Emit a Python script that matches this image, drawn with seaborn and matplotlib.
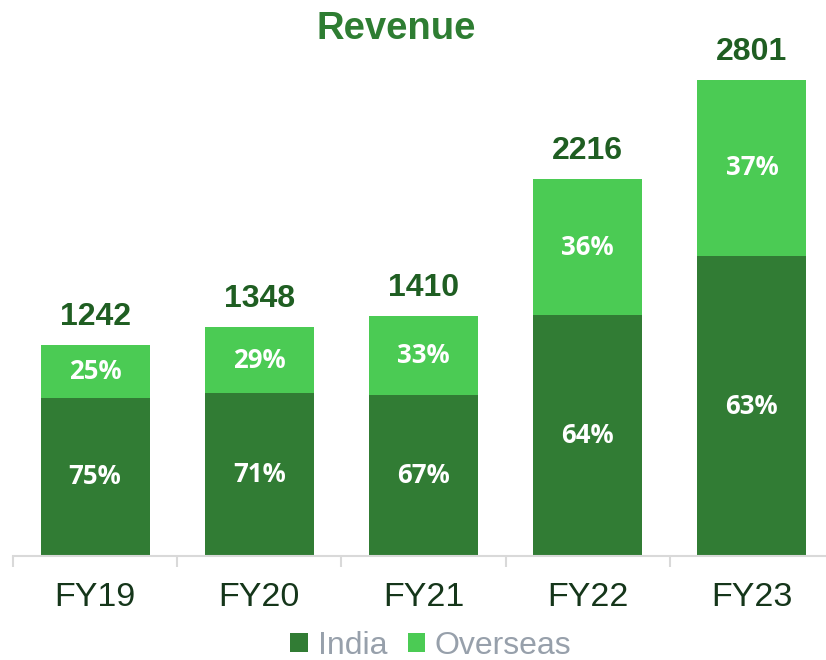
import matplotlib
matplotlib.use("Agg")
import matplotlib.pyplot as plt
import seaborn as sns
import pandas as pd
from matplotlib.patches import Patch

years = ["FY19", "FY20", "FY21", "FY22", "FY23"]
totals = [1242, 1348, 1410, 2216, 2801]
india_pct = [75, 71, 67, 64, 63]
overseas_pct = [25, 29, 33, 36, 37]

india_vals = [t * p / 100 for t, p in zip(totals, india_pct)]

df = pd.DataFrame({"year": years, "total": totals, "india": india_vals})

sns.set_theme(style="white")
plt.rcParams["font.family"] = ["Liberation Sans", "DejaVu Sans"]

c_india = "#317c34"
c_over = "#4bcb54"

fig = plt.figure(figsize=(8.26, 6.6), dpi=100)
ax = fig.add_axes([13 / 826, 104 / 660, 821 / 826, 510 / 660])

sns.barplot(data=df, x="year", y="total", color=c_over, width=0.665,
            saturation=1, ax=ax, edgecolor="none")
sns.barplot(data=df, x="year", y="india", color=c_india, width=0.665,
            saturation=1, ax=ax, edgecolor="none")

ax.set_xlim(-0.5, 4.5)
ax.set_ylim(0, 3000)
ax.set_xlabel("")
ax.set_ylabel("")
ax.set_yticks([])
for s in ["top", "left", "right"]:
    ax.spines[s].set_visible(False)
ax.spines["bottom"].set_color("#d9d9d9")
ax.spines["bottom"].set_linewidth(1.5)

ax.set_xticks(range(len(years)))
ax.set_xticklabels(years, fontsize=24.5, color="#15361a")
ax.tick_params(axis="x", which="major", bottom=False, length=0, pad=19)
ax.set_xticks([i - 0.5 for i in range(len(years) + 1)], minor=True)
ax.tick_params(axis="x", which="minor", bottom=True, length=8, width=1.5,
               color="#d9d9d9", direction="out")

for i, (t, iv, ip, op) in enumerate(zip(totals, india_vals, india_pct, overseas_pct)):
    ax.text(i, iv / 2, f"{ip}%", ha="center", va="center", color="white",
            fontsize=18.5, fontweight="bold", family=["Open Sans", "DejaVu Sans"])
    ax.text(i, iv + (t - iv) / 2, f"{op}%", ha="center", va="center", color="white",
            fontsize=18.5, fontweight="bold", family=["Open Sans", "DejaVu Sans"])
    ax.text(i, t + 165, f"{t}", ha="center", va="center", color="#1f5e22",
            fontsize=23, fontweight="bold")

fig.text(396 / 826, 1 - 29 / 660, "Revenue", ha="center", va="center",
         fontsize=27.5, fontweight="bold", color="#2e7d32")

handles = [Patch(facecolor=c_india, edgecolor="none"),
           Patch(facecolor=c_over, edgecolor="none")]
leg = fig.legend(handles, ["India", "Overseas"], loc="center",
                 bbox_to_anchor=(431 / 826, 1 - 646 / 660), ncol=2, frameon=False,
                 fontsize=23, handlelength=0.55, handleheight=0.55,
                 handletextpad=0.3, columnspacing=0.65)
for t in leg.get_texts():
    t.set_color("#97a0ab")

fig.savefig("out.png", dpi=100)
